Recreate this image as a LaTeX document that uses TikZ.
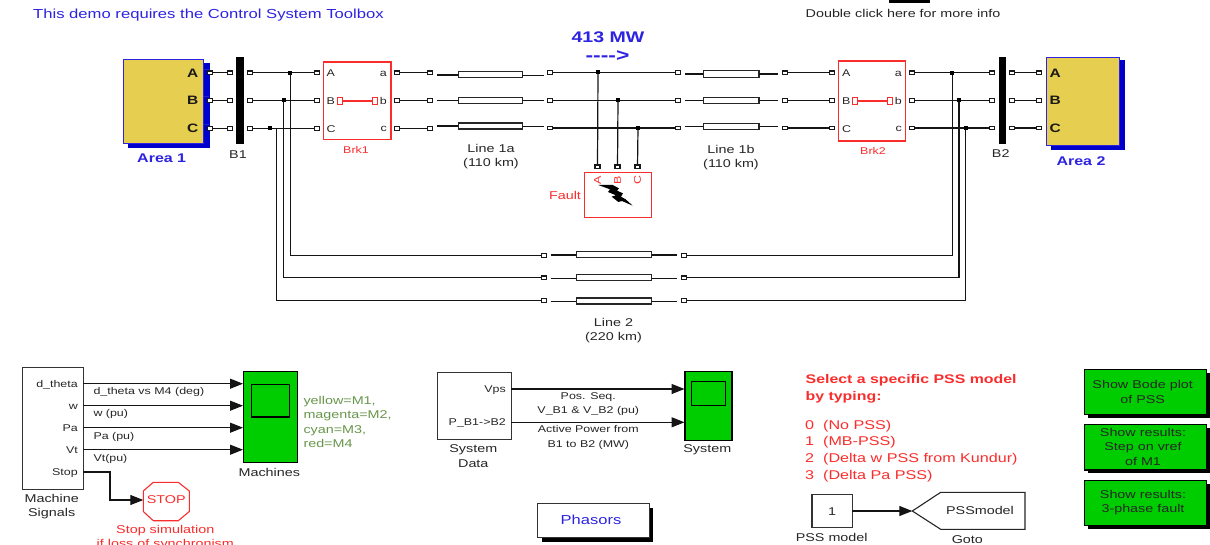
\documentclass[tikz,border=0pt]{standalone}
\usepackage{fontspec}
\setmainfont{Liberation Sans}[FakeStretch=1.27]
\usetikzlibrary{arrows.meta}
\definecolor{simred}{RGB}{250,45,45}
\definecolor{simblue}{RGB}{0,0,205}
\definecolor{txtblue}{RGB}{45,35,225}
\definecolor{simgreen}{RGB}{0,205,0}
\definecolor{simyellow}{RGB}{230,206,80}
\definecolor{olivetxt}{RGB}{105,150,75}
\definecolor{wirec}{gray}{0.08}
\newcommand{\fs}[1]{\fontsize{#1}{14.2}\selectfont}
\tikzset{
  txt/.style={font=\fs{11.3},inner sep=0pt,text=black!85,align=center,yshift=-0.9pt},
  txtl/.style={txt,anchor=west,align=left},
  txtr/.style={txt,anchor=east,align=right},
  redt/.style={txt,text=simred},
  slab/.style={font=\fs{9.8}},
  blockbox/.style={draw=black!80,fill=white,line width=1.1pt,inner sep=0pt,outer sep=0pt,font=\fs{11.3},align=center,text=black!85},
  redbox/.style={blockbox,draw=simred,line width=1.3pt},
  shadowk/.style={fill=black,draw=none,inner sep=0pt,outer sep=0pt},
  shadowb/.style={fill=simblue,draw=none,inner sep=0pt,outer sep=0pt},
  notch/.style={fill=white,draw=none,inner sep=0pt,outer sep=0pt},
  areabox/.style={draw=txtblue,fill=simyellow,line width=1pt,inner sep=0pt,outer sep=0pt},
  busbar/.style={fill=black,draw=none,inner sep=0pt,outer sep=0pt},
  greenbox/.style={blockbox,draw=black,fill=simgreen},
  scopescreen/.style={draw=black,fill=simgreen,line width=1.1pt,inner sep=0pt,outer sep=0pt},
  linebox/.style={draw=black!85,fill=white,line width=1.1pt,inner sep=0pt,outer sep=0pt},
  psq/.style={draw=black!90,fill=white,line width=1.2pt,inner sep=0pt,outer sep=0pt,minimum width=5pt,minimum height=3.6pt},
  rsq/.style={draw=simred,fill=white,line width=1.1pt,inner sep=0pt,outer sep=0pt,minimum width=5pt,minimum height=7pt},
  dotj/.style={fill=black,draw=none,inner sep=0pt,outer sep=0pt,minimum size=3.8pt},
  wire/.style={draw=wirec,line width=1.2pt},
  sig/.style={draw=wirec,line width=1.1pt,-{Triangle[length=13pt,width=10pt]}},
  plab/.style={font=\bfseries\fs{12.2},inner sep=0pt,text=black!90}
}
\newcommand{\blk}[7]{% style name x1 y1 x2 y2 text
  \pgfmathsetmacro{\bw}{#5-#3}\pgfmathsetmacro{\bh}{#6-#4}
  \node[#1,minimum width=\bw pt,minimum height=\bh pt,anchor=north west] (#2) at (#3,#4) {#7};}
\begin{document}
\begin{tikzpicture}[x=1pt,y=-1pt]
\useasboundingbox (0,0) rectangle (1210,544);
\fill[white] (0,0) rectangle (1210,544);
% top texts
\node[txtl,text=txtblue,font=\fs{13.1}] (demo) at (33,14.5) {This demo requires the Control System Toolbox};
\blk{busbar}{infobar}{889}{0}{930}{2.6}{}
\node[txt] (info) at (903,13) {Double click here for more info};
\node[txt,text=txtblue,font=\bfseries\fs{15.4}] (mw) at (608,36.5) {413 MW};
\node[txt,text=txtblue,font=\bfseries\fs{18}] (flow) at (607.5,55) {-{}-{}-{}->};
% Area 1
\blk{shadowb}{a1s}{128}{63}{210}{148}{}
\blk{areabox}{a1}{123.5}{59}{203}{143}{}
\foreach \n/\y in {a/72.7,b/100.3,c/128.3}{\blk{notch}{a1n\n}{203.5}{\y-3.5}{209}{\y+3.5}{}}
\node[plab,anchor=east] (a1A) at (198.5,73) {A};
\node[plab,anchor=east] (a1B) at (198.5,100.5) {B};
\node[plab,anchor=east] (a1C) at (198.5,128.5) {C};
\node[txt,text=txtblue,font=\bfseries\fs{12.6}] (a1l) at (161.7,157.5) {Area 1};
% B1
\blk{busbar}{b1}{236.3}{57.3}{244.3}{144.3}{}
\node[txt] (b1l) at (238,153.5) {B1};
% ports row left
\foreach \n/\y in {a/72.7,b/100.3,c/128.3}{
  \node[psq] (p1\n) at (209.7,\y) {};
  \node[psq] (p2\n) at (230,\y) {};
  \node[psq] (p3\n) at (250,\y) {};
  \node[psq] (p4\n) at (316.7,\y) {};
  \node[psq] (p5\n) at (396.7,\y) {};
  \node[psq] (p6\n) at (430.3,\y) {};
  \draw[wire] (p1\n) -- (p2\n);
  \draw[wire] (p3\n) -- (p4\n);
  \draw[wire] (p5\n) -- (p6\n);
}
% Brk1
\blk{redbox}{brk1}{323.3}{62}{391}{139.7}{}
\node[txtl,slab] (bk1A) at (326.5,72.7) {A};
\node[txtl,slab] (bk1B) at (326.5,100.3) {B};
\node[txtl,slab] (bk1C) at (326.5,128.3) {C};
\node[txtr,slab] (bk1a) at (387,72.7) {a};
\node[txtr,slab] (bk1b) at (387,100.3) {b};
\node[txtr,slab] (bk1c) at (387,128.3) {c};
\node[rsq] (bk1l) at (339.7,101) {};
\node[rsq] (bk1r) at (374.7,101) {};
\draw[draw=simred,line width=1.1pt] (bk1l) -- (bk1r);
\node[redt,slab] (brk1l) at (356,148.7) {Brk1};
% Line 1a
\blk{linebox}{l1aA}{458.3}{71.7}{522.3}{77.7}{}
\blk{linebox}{l1aB}{458.3}{97.3}{522.3}{103.3}{}
\blk{linebox}{l1aC}{458.3}{123}{522.3}{129}{}
\coordinate (s1A) at (437,75); \coordinate (s1B) at (437,100.3); \coordinate (s1C) at (437,126);
\coordinate (s2A) at (544,75.3); \coordinate (s2B) at (544,100.3); \coordinate (s2C) at (544,126.3);
\foreach \n in {A,B,C}{\draw[wire] (s1\n) -- (s1\n -| l1a\n.west); \draw[wire] (s2\n -| l1a\n.east) -- (s2\n);}
\node[txt] (l1al) at (491,155.5) {Line 1a\\(110 km)};
% centre bus
\foreach \n/\y in {a/72.3,b/100.3,c/128}{
  \node[psq] (p7\n) at (550.3,\y) {};
  \node[psq] (p8\n) at (677.7,\y) {};
  \draw[wire] (p7\n) -- (p8\n);
}
\node[dotj] (jfa) at (598,72.3) {};
\node[dotj] (jfb) at (618,100.3) {};
\node[dotj] (jfc) at (638,128) {};
% Fault
\blk{redbox}{fault}{584.7}{172.7}{651.7}{217.3}{}
\node[psq] (fa) at (597.5,166.7) {};
\node[psq] (fb) at (617.5,166.7) {};
\node[psq] (fc) at (637.5,166.7) {};
\draw[wire] (jfa) -- (fa);
\draw[wire] (jfb) -- (fb);
\draw[wire] (jfc) -- (fc);
\node[redt,slab,rotate=90] (faA) at (597.5,179.5) {A};
\node[redt,slab,rotate=90] (faB) at (617.5,179.5) {B};
\node[redt,slab,rotate=90] (faC) at (637.5,179.5) {C};
\node[redt] (faultl) at (565,195) {Fault};
\begin{scope}[shift={(470,20)},x=0.3333pt,y=-0.3333pt]
\fill[black] (385,495) -- (428,495) -- (447,505) -- (441,512) -- (459,520) -- (453,530) -- (467,538) -- (488,557) -- (456,543) -- (445,546) -- (425,530) -- (438,526) -- (414,516) -- (420,508) -- cycle;
\end{scope}
% Line 1b
\blk{linebox}{l1bA}{703.3}{70.7}{759}{77.7}{}
\blk{linebox}{l1bB}{703.3}{97.7}{759}{103.3}{}
\blk{linebox}{l1bC}{703.3}{123.3}{759}{129.7}{}
\coordinate (s3A) at (685,74); \coordinate (s3B) at (685,100.3); \coordinate (s3C) at (685,126.5);
\coordinate (s4A) at (777.7,74); \coordinate (s4B) at (777.7,100.3); \coordinate (s4C) at (777.7,126.5);
\foreach \n in {A,B,C}{\draw[wire] (s3\n) -- (s3\n -| l1b\n.west); \draw[wire] (s4\n -| l1b\n.east) -- (s4\n);}
\node[txt] (l1bl) at (731,157) {Line 1b\\(110 km)};
% right side
\foreach \n/\y in {a/72.7,b/100.3,c/128}{
  \node[psq] (q1\n) at (784.7,\y) {};
  \node[psq] (q2\n) at (831.7,\y) {};
  \node[psq] (q3\n) at (911.7,\y) {};
  \node[psq] (q4\n) at (992,\y) {};
  \node[psq] (q5\n) at (1012,\y) {};
  \node[psq] (q6\n) at (1038.7,\y) {};
  \draw[wire] (q1\n) -- (q2\n);
  \draw[wire] (q3\n) -- (q4\n);
  \draw[wire] (q5\n) -- (q6\n);
}
\blk{redbox}{brk2}{838.7}{61}{905.7}{141}{}
\node[txtl,slab] (bk2A) at (842,72.7) {A};
\node[txtl,slab] (bk2B) at (842,100.3) {B};
\node[txtl,slab] (bk2C) at (842,128) {C};
\node[txtr,slab] (bk2a) at (902,72.7) {a};
\node[txtr,slab] (bk2b) at (902,100.3) {b};
\node[txtr,slab] (bk2c) at (902,128) {c};
\node[rsq] (bk2l) at (855,101) {};
\node[rsq] (bk2r) at (889.7,101) {};
\draw[draw=simred,line width=1.1pt] (bk2l) -- (bk2r);
\node[redt,slab] (brk2l) at (873,150) {Brk2};
\blk{busbar}{b2}{998.7}{57.3}{1006.3}{144.3}{}
\node[txt] (b2l) at (1000.7,153) {B2};
\blk{shadowb}{a2s}{1051}{60}{1125.3}{150}{}
\blk{areabox}{a2}{1046}{57}{1119.7}{145.3}{}
\node[plab,anchor=west] (a2A) at (1049.5,73) {A};
\node[plab,anchor=west] (a2B) at (1049.5,100.5) {B};
\node[plab,anchor=west] (a2C) at (1049.5,128.3) {C};
\node[txt,text=txtblue,font=\bfseries\fs{12.6}] (a2l) at (1081,160) {Area 2};
% Junctions + Line 2
\node[dotj] (jl1) at (290.3,72.7) {};
\node[dotj] (jl2) at (283.7,100.3) {};
\node[dotj] (jl3) at (270.3,128.3) {};
\coordinate (jl3v) at (276.8,128.3);
\node[dotj] (jr1) at (952.3,72.7) {};
\node[dotj] (jr2) at (959,100.3) {};
\node[dotj] (jr3) at (965.7,128) {};
\foreach \n/\y in {1/255.3,2/277.7,3/300.3}{
  \node[psq] (m1\n) at (544,\y) {};
  \node[psq] (m2\n) at (684.3,\y) {};
}
\draw[wire] (jl1) |- (m11);
\draw[wire] (jl2) |- (m12);
\draw[wire] (jl3v) |- (m13);
\draw[wire] (m21) -| (jr1);
\draw[wire] (m22) -| (jr2);
\draw[wire] (m23) -| (jr3);
\blk{linebox}{l2A}{576.3}{251.3}{651.7}{257.3}{}
\blk{linebox}{l2B}{576.3}{274.7}{651.7}{280.7}{}
\blk{linebox}{l2C}{576.3}{298}{651.7}{304}{}
\coordinate (s5A) at (550.7,255); \coordinate (s5B) at (550.7,278.3); \coordinate (s5C) at (550.7,301.3);
\coordinate (s6A) at (677.3,255); \coordinate (s6B) at (677.3,278.3); \coordinate (s6C) at (677.3,301.3);
\foreach \n in {A,B,C}{\draw[wire] (s5\n) -- (s5\n -| l2\n.west); \draw[wire] (s6\n -| l2\n.east) -- (s6\n);}
\node[txt] (l2l) at (613.5,330) {Line 2\\(220 km)};
% Machine signals
\blk{blockbox}{ms}{22.7}{367.3}{83.3}{489.3}{}
\node[txtr,slab] (msa) at (78,383.7) {d\_theta};
\node[txtr,slab] (msb) at (78,405.7) {w};
\node[txtr,slab] (msc) at (78,427.7) {Pa};
\node[txtr,slab] (msd) at (78,449.7) {Vt};
\node[txtr,slab] (mse) at (78,472) {Stop};
\node[txt] (msl) at (51.7,505.5) {Machine\\Signals};
\blk{greenbox}{mach}{243.7}{371.7}{297.3}{462.3}{}
\blk{scopescreen}{machs}{251.7}{384.3}{289.3}{417}{}
\node[txt] (machl) at (269.3,471.7) {Machines};
\foreach \n/\y in {a/383.7,b/405.7,c/427.7,d/449.7}{
  \coordinate (msp\n) at (83.3,\y);
  \coordinate (mcp\n) at (243,\y);
  \draw[sig] (msp\n) -- (mcp\n);
}
\node[txtl,slab] (sla) at (93.3,391) {d\_theta vs M4 (deg)};
\node[txtl,slab] (slb) at (93.3,413.3) {w (pu)};
\node[txtl,slab] (slc) at (93.3,435.7) {Pa (pu)};
\node[txtl,slab] (sld) at (93.3,457.7) {Vt(pu)};
\node[txtl,text=olivetxt,font=\fontsize{11.3}{14.4}\selectfont] (mlegend) at (303.3,421) {yellow=M1,\\magenta=M2,\\cyan=M3,\\red=M4};
% Stop
\draw[draw=simred,line width=1.1pt] (153.3,482.3) -- (178.3,482.3) -- (189.3,491) -- (189.3,511.5) -- (178.3,520.7) -- (153.3,520.7) -- (143.3,511.5) -- (143.3,491) -- cycle;
\node[redt,minimum width=46pt] (stop) at (166.3,499) {STOP};
\coordinate (mspe) at (83.3,472);
\coordinate (stopin) at (143.3,500);
\draw[sig] (mspe) -- (110,472) -- (110,500) -- (stopin);
\node[redt] (stopl) at (165.3,536.5) {Stop simulation\\if loss of synchronism};
% System
\blk{blockbox}{sd}{437.3}{372.7}{511.3}{439.3}{}
\node[txtr,slab] (sdv) at (506,389) {Vps};
\node[txtr,slab] (sdp) at (506,422.3) {P\_B1->B2};
\node[txt] (sdl) at (473.3,455.3) {System\\Data};
\blk{greenbox}{sys}{685}{371.7}{732}{440.3}{}
\blk{scopescreen}{syss}{691.7}{381.7}{725.7}{405.7}{}
\node[txt] (sysl) at (707.3,449.3) {System};
\coordinate (sdpa) at (511.3,389); \coordinate (sypa) at (684.5,389);
\coordinate (sdpb) at (511.3,422.3); \coordinate (sypb) at (684.5,422.3);
\draw[sig] (sdpa) -- (sypa);
\draw[sig] (sdpb) -- (sypb);
\node[txt,slab] (sl1) at (588.3,403.5) {Pos. Seq.\\V\_B1 \& V\_B2 (pu)};
\node[txt,slab] (sl2) at (588.3,436.5) {Active Power from\\B1 to B2 (MW)};
% Phasors
\blk{shadowk}{phs}{541.7}{507.7}{653.3}{541.7}{}
\blk{blockbox}{ph}{537.7}{503.7}{649.3}{537.7}{}
\node[txt,text=txtblue,font=\fs{13}] (pht) at (591,519) {Phasors};
% PSS text
\node[txtl,text=simred,font=\bfseries\fontsize{12.5}{17.4}\selectfont] (pss1) at (805.5,388) {Select a specific PSS model\\by typing:};
\node[txtl,text=simred,font=\fontsize{12.7}{16.6}\selectfont] (pss2) at (805,450) {0\ \ (No PSS)\\1\ \ (MB-PSS)\\2\ \ (Delta w PSS from Kundur)\\3\ \ (Delta Pa PSS)};
% constant + goto
\blk{blockbox}{cst}{812}{494.7}{852.3}{527.7}{1}
\node[txt] (cstl) at (831.7,536.7) {PSS model};
\draw[draw=black!85,fill=white,line width=1.1pt] (912.3,511) -- (940.7,492.3) -- (1025,492.3) -- (1025,529.3) -- (940.7,529.3) -- cycle;
\node[txt] (gotot) at (980,509.3) {PSSmodel};
\coordinate (gotoin) at (912.3,511);
\draw[sig] (cst.east |- gotoin) -- (gotoin);
\node[txt] (gotol) at (967.3,539) {Goto};
% buttons
\blk{shadowk}{bt1s}{1088}{372.5}{1210}{417.5}{}
\blk{greenbox}{bt1}{1084.7}{369.3}{1206.7}{414.3}{}
\node[txt] (bt1t) at (1142.7,391) {Show Bode plot\\of PSS};
\blk{shadowk}{bt2s}{1088}{428}{1210}{473}{}
\blk{greenbox}{bt2}{1084.7}{424.7}{1206.7}{470}{}
\node[txt] (bt2t) at (1143,446) {Show results:\\Step on vref\\of M1};
\blk{shadowk}{bt3s}{1088}{483.5}{1210}{529}{}
\blk{greenbox}{bt3}{1084.7}{480.3}{1206.7}{525.7}{}
\node[txt] (bt3t) at (1143,502) {Show results:\\3-phase fault};
\end{tikzpicture}
\end{document}
